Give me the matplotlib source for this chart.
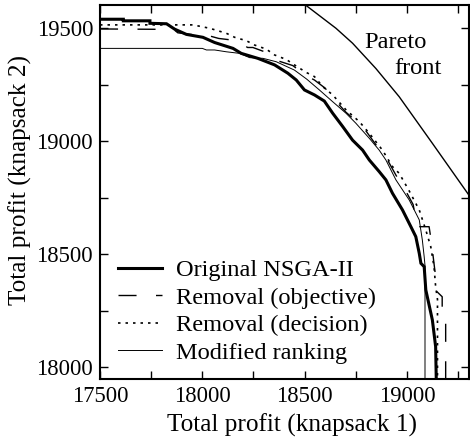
import matplotlib
matplotlib.use("Agg")
import matplotlib.pyplot as plt
from matplotlib.ticker import MultipleLocator, FuncFormatter

plt.rcParams['font.family'] = ['Liberation Serif', 'DejaVu Serif']

# ---- data ----
orig_x = [17500, 17614, 17614, 17744, 17744, 17825, 17865, 17922, 18003, 18060, 18150, 18190,
          18271, 18353, 18418, 18459, 18499, 18548, 18596, 18637, 18686, 18734, 18783, 18816,
          18864, 18897, 18929, 18978, 19019, 19043, 19060, 19068, 19084, 19092, 19124, 19140, 19143]
orig_y = [19540, 19540, 19533, 19533, 19522, 19520, 19496, 19473, 19460, 19437, 19411, 19389,
          19367, 19338, 19301, 19271, 19227, 19205, 19178, 19124, 19065, 19005, 18961, 18917,
          18866, 18829, 18770, 18696, 18622, 18578, 18504, 18460, 18445, 18342, 18209, 18091, 17948]

obj_x = [17500, 17860, 17880, 17939, 18020, 18080, 18117, 18172, 18221, 18247, 18304, 18338,
         18442, 18507, 18548, 18600, 18650, 18700, 18750, 18800, 18848, 18900, 18946, 18994,
         19030, 19050, 19108, 19120, 19130, 19140, 19140, 19172, 19172, 19189, 19189]
obj_y = [19497, 19495, 19480, 19473, 19470, 19455, 19451, 19445, 19415, 19415, 19396, 19365,
         19335, 19290, 19271, 19235, 19180, 19130, 19090, 19045, 18985, 18925, 18850, 18780,
         18720, 18622, 18622, 18550, 18474, 18400, 18340, 18312, 18231, 18225, 17948]

dec_x = [17500, 17954, 18036, 18117, 18158, 18215, 18255, 18312, 18353, 18410, 18450, 18507,
         18548, 18588, 18637, 18702, 18767, 18816, 18880, 18929, 18962, 19011, 19060, 19092,
         19116, 19132, 19140, 19149, 19149]
dec_y = [19515, 19515, 19500, 19478, 19460, 19445, 19426, 19408, 19382, 19362, 19338, 19305,
         19286, 19242, 19205, 19139, 19087, 19035, 18961, 18888, 18858, 18780, 18696, 18607,
         18534, 18445, 18357, 18300, 17948]

mod_x = [17500, 18000, 18020, 18060, 18117, 18182, 18231, 18296, 18361, 18450, 18510, 18572,
         18637, 18702, 18750, 18816, 18864, 18897, 18946, 19011, 19060, 19075, 19084, 19088, 19088]
mod_y = [19411, 19411, 19404, 19404, 19396, 19389, 19370, 19367, 19352, 19315, 19275, 19227,
         19175, 19124, 19080, 19013, 18961, 18917, 18829, 18740, 18652, 18563, 18489, 18450, 17948]

pareto_x = [18504, 18653, 18734, 18848, 18962, 19124, 19300]
pareto_y = [19603, 19500, 19434, 19322, 19197, 18991, 18765]

labels = ["Original NSGA-II", "Removal (objective)", "Removal (decision)", "Modified ranking"]

W, H = 470, 440
fig = plt.figure(figsize=(W / 100, H / 100), dpi=100)
ax = fig.add_axes([100 / W, 1 - 379 / H, 369 / W, 374 / H])

ax.plot(pareto_x, pareto_y, color='black', lw=1.0)
l1, = ax.plot(orig_x, orig_y, color='black', lw=2.2, solid_joinstyle='miter')
l2, = ax.plot(obj_x, obj_y, color='black', lw=1.0, dashes=(13, 14))
l3, = ax.plot(dec_x, dec_y, color='black', lw=1.2, dashes=(1.5, 3))
l4, = ax.plot(mod_x, mod_y, color='black', lw=0.7)

ax.set_xlim(17500, 19303)
ax.set_ylim(17948, 19603)

ax.xaxis.set_major_locator(MultipleLocator(500))
ax.xaxis.set_minor_locator(MultipleLocator(250))
ax.yaxis.set_major_locator(MultipleLocator(500))
ax.yaxis.set_minor_locator(MultipleLocator(250))
ax.xaxis.set_major_formatter(FuncFormatter(lambda v, p: f"{int(round(v))}"))
ax.yaxis.set_major_formatter(FuncFormatter(lambda v, p: f"{int(round(v))}"))
ax.tick_params(which='both', direction='in', top=True, right=True, length=6, width=1.0,
               labelsize=16.3)
ax.tick_params(axis='x', pad=5)
ax.tick_params(axis='y', pad=5)
for s in ax.spines.values():
    s.set_linewidth(1.5)

ax.set_xlabel("Total profit (knapsack 1)", fontsize=18.2, va='center')
ax.xaxis.set_label_coords((292 - 100) / 369, (379 - 425) / 374)
ax.set_ylabel("Total profit (knapsack 2)", fontsize=18.2, va='center')
ax.yaxis.set_label_coords((20 - 100) / 369, (379 - 180) / 374)

fig.text(395 / W, 1 - 42 / H, "Pareto", fontsize=17.6, ha='center', va='center')
fig.text(418 / W, 1 - 69 / H, "front", fontsize=17.6, ha='center', va='center')

ax.legend([l1, l2, l3, l4], labels, frameon=False, fontsize=17.6, loc='lower left',
          bbox_to_anchor=((118 - 100) / 369, 0.041), handlelength=1.8, handletextpad=0.57,
          labelspacing=0.22, borderpad=0.0, borderaxespad=0.0)

fig.savefig("out.png", dpi=100)
